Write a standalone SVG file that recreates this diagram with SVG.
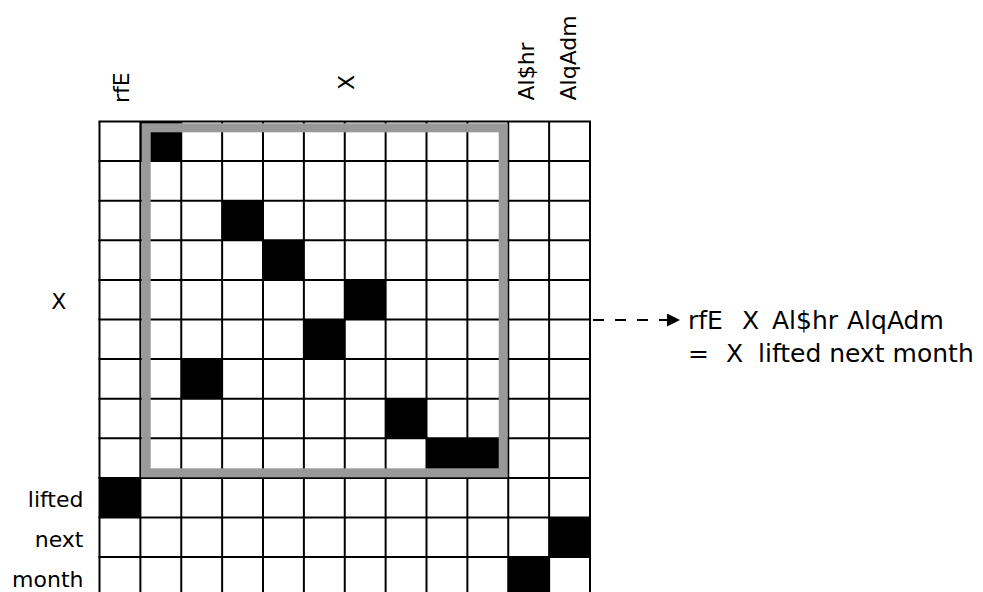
<svg xmlns="http://www.w3.org/2000/svg" width="983" height="592" viewBox="0 0 983 592">
  <style>
    .grid line { stroke: #000; stroke-width: 2; }
    .cell { fill: #000; }
    .lbl { font-family: "DejaVu Sans", "Liberation Sans", sans-serif; font-size: 22px; fill: #000; }
    .note { font-family: "DejaVu Sans", "Liberation Sans", sans-serif; font-size: 25px; fill: #000; }
    .frame { fill: none; stroke: #999; stroke-width: 9; }
    .conn { stroke: #000; stroke-width: 2; stroke-dasharray: 11 11; fill: none; }
  </style>
  <defs>
    <marker id="arrow" markerWidth="13" markerHeight="13" refX="13" refY="6.5" orient="auto" markerUnits="userSpaceOnUse">
      <path d="M0,0 L13,6.5 L0,13 Z" fill="#000"/>
    </marker>
  </defs>
  <rect width="983" height="592" fill="#fff"/>

  <g id="matrix">
    <g class="grid">
      <line x1="99.5" y1="121.5" x2="99.5" y2="600"/>
      <line x1="140.375" y1="121.5" x2="140.375" y2="600"/>
      <line x1="181.25" y1="121.5" x2="181.25" y2="600"/>
      <line x1="222.125" y1="121.5" x2="222.125" y2="600"/>
      <line x1="263" y1="121.5" x2="263" y2="600"/>
      <line x1="303.875" y1="121.5" x2="303.875" y2="600"/>
      <line x1="344.75" y1="121.5" x2="344.75" y2="600"/>
      <line x1="385.625" y1="121.5" x2="385.625" y2="600"/>
      <line x1="426.5" y1="121.5" x2="426.5" y2="600"/>
      <line x1="467.375" y1="121.5" x2="467.375" y2="600"/>
      <line x1="508.25" y1="121.5" x2="508.25" y2="600"/>
      <line x1="549.125" y1="121.5" x2="549.125" y2="600"/>
      <line x1="590" y1="121.5" x2="590" y2="600"/>
      <line x1="98.5" y1="121.5" x2="591" y2="121.5"/>
      <line x1="98.5" y1="161.1" x2="591" y2="161.1"/>
      <line x1="98.5" y1="200.7" x2="591" y2="200.7"/>
      <line x1="98.5" y1="240.3" x2="591" y2="240.3"/>
      <line x1="98.5" y1="279.9" x2="591" y2="279.9"/>
      <line x1="98.5" y1="319.5" x2="591" y2="319.5"/>
      <line x1="98.5" y1="359.1" x2="591" y2="359.1"/>
      <line x1="98.5" y1="398.7" x2="591" y2="398.7"/>
      <line x1="98.5" y1="438.3" x2="591" y2="438.3"/>
      <line x1="98.5" y1="477.9" x2="591" y2="477.9"/>
      <line x1="98.5" y1="517.5" x2="591" y2="517.5"/>
      <line x1="98.5" y1="557.1" x2="591" y2="557.1"/>
    </g>
    <g id="cells">
      <rect class="cell" x="140.375" y="121.5" width="40.875" height="39.6"/>
      <rect class="cell" x="222.125" y="200.7" width="40.875" height="39.6"/>
      <rect class="cell" x="263" y="240.3" width="40.875" height="39.6"/>
      <rect class="cell" x="344.75" y="279.9" width="40.875" height="39.6"/>
      <rect class="cell" x="303.875" y="319.5" width="40.875" height="39.6"/>
      <rect class="cell" x="181.25" y="359.1" width="40.875" height="39.6"/>
      <rect class="cell" x="385.625" y="398.7" width="40.875" height="39.6"/>
      <rect class="cell" x="426.5" y="438.3" width="81.75" height="39.6"/>
      <rect class="cell" x="99.5" y="477.9" width="40.875" height="39.6"/>
      <rect class="cell" x="549.125" y="517.5" width="40.875" height="39.6"/>
      <rect class="cell" x="508.25" y="557.1" width="40.875" height="39.6"/>
    </g>
    <rect id="x-block" class="frame" x="146.2" y="127.8" width="357" height="345"/>
  </g>

  <g id="col-labels">
    <text class="lbl" transform="translate(128.5,103) rotate(-90)">rfE</text>
    <text class="lbl" text-anchor="middle" transform="translate(353.5,82.5) rotate(-90)">X</text>
    <text class="lbl" transform="translate(533.5,100.5) rotate(-90)">Al$hr</text>
    <text class="lbl" transform="translate(576,100.5) rotate(-90)">AlqAdm</text>
  </g>

  <g id="row-labels">
    <text class="lbl" x="58.7" y="309" text-anchor="middle">X</text>
    <text class="lbl" x="83.5" y="507.3" text-anchor="end">lifted</text>
    <text class="lbl" x="83.5" y="547.3" text-anchor="end">next</text>
    <text class="lbl" x="83.5" y="587" text-anchor="end">month</text>
  </g>

  <g id="connectors">
    <line class="conn" x1="593" y1="320" x2="680" y2="320" marker-end="url(#arrow)"/>
  </g>

  <g id="note">
    <text class="note" x="688" y="329.3">rfE</text>
    <text class="note" x="742" y="329.3">X</text>
    <text class="note" x="772" y="329.3">Al$hr</text>
    <text class="note" x="847" y="329.3">AlqAdm</text>
    <text class="note" x="688" y="361.7">=</text>
    <text class="note" x="726" y="361.7">X</text>
    <text class="note" x="758" y="361.7">lifted next month</text>
  </g>
</svg>
